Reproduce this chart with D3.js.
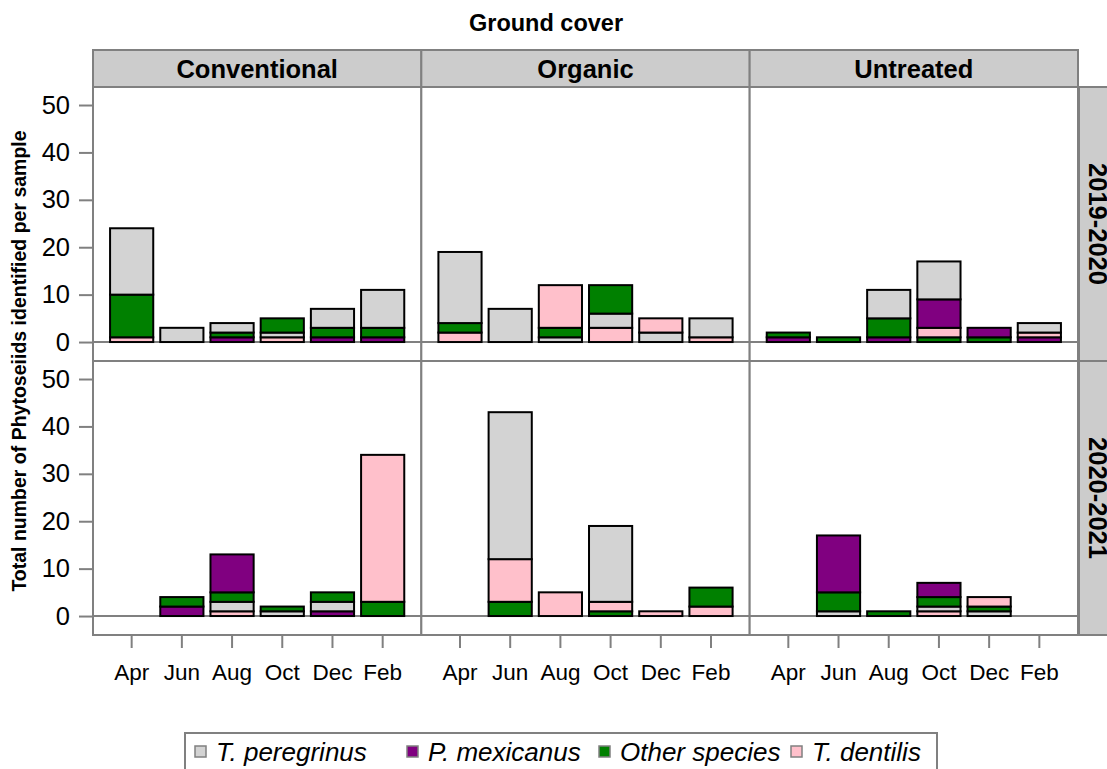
<!DOCTYPE html>
<html>
<head>
<meta charset="utf-8">
<script src="https://cdn.jsdelivr.net/npm/d3@7"></script>
<style>
  body { margin: 0; background: #fff; }
  svg { font-family: "Liberation Sans", Arial, sans-serif; }
</style>
</head>
<body>
<div id="chart"></div>
<script>
var months = ["Apr", "Jun", "Aug", "Oct", "Dec", "Feb"];
var treatments = ["Conventional", "Organic", "Untreated"];
var seasons = ["2019-2020", "2020-2021"];
var species = ["T. peregrinus", "P. mexicanus", "Other species", "T. dentilis"];
var speciesColors = ["#d3d3d3", "#800080", "#008000", "#ffc0cb"];
// order used when two segments of a bar have the same count
var tieRank = [2, 0, 3, 1];

// counts per season -> treatment -> month
var peregrinus = [
    [[14, 3, 2, 1, 4, 8], [15, 7, 1, 3, 2, 4], [0, 0, 6, 8, 0, 2]],
    [[0, 0, 2, 1, 2, 0], [0, 31, 0, 16, 0, 0], [0, 1, 0, 1, 1, 0]]
];
var mexicanus = [
    [[0, 0, 1, 0, 1, 1], [0, 0, 0, 0, 0, 0], [1, 0, 1, 6, 2, 1]],
    [[0, 2, 8, 0, 1, 0], [0, 0, 0, 0, 0, 0], [0, 12, 0, 3, 0, 0]]
];
var otherSpecies = [
    [[9, 0, 1, 3, 2, 2], [2, 0, 2, 6, 0, 0], [1, 1, 4, 1, 1, 0]],
    [[0, 2, 2, 1, 2, 3], [0, 3, 0, 1, 0, 4], [0, 4, 1, 2, 1, 0]]
];
var dentilis = [
    [[1, 0, 0, 1, 0, 0], [2, 0, 9, 3, 3, 1], [0, 0, 0, 2, 0, 1]],
    [[0, 0, 1, 0, 0, 31], [0, 9, 5, 2, 1, 2], [0, 0, 0, 1, 2, 0]]
];
var seriesData = [peregrinus, mexicanus, otherSpecies, dentilis];
var yTicks = [0, 10, 20, 30, 40, 50];

var width = 1107, height = 769;
var left = 93, right = 1078;
var stripTop = 50, stripH = 37;
var panelTop = 87, panelH = 274;
var panelW = (right - left) / treatments.length;
var grey = "#808080";

var svg = d3.select("#chart").append("svg")
    .attr("width", width)
    .attr("height", height);

var x = d3.scaleBand().domain(months)
    .range([0, panelW])
    .paddingInner(0.14)
    .paddingOuter(0.34);
var y = d3.scaleLinear().domain([-4, 53.8]).range([panelH, 0]);

svg.append("text")
    .attr("x", 546).attr("y", 31)
    .attr("text-anchor", "middle")
    .style("font-size", "23.5px").style("font-weight", "bold")
    .text("Ground cover");

svg.append("text")
    .attr("transform", "translate(26," + (panelTop + panelH) + ") rotate(-90)")
    .attr("text-anchor", "middle")
    .style("font-size", "19.5px").style("font-weight", "bold")
    .text("Total number of Phytoseiids identified per sample");

// column strips
treatments.forEach(function(t, c) {
    var g = svg.append("g").attr("transform", "translate(" + (left + c * panelW) + "," + stripTop + ")");
    g.append("rect").attr("width", panelW).attr("height", stripH)
        .attr("fill", "#cccccc").attr("stroke", grey).attr("stroke-width", 2);
    g.append("text").attr("x", panelW / 2).attr("y", stripH / 2 + 9)
        .attr("text-anchor", "middle")
        .style("font-size", "25.5px").style("font-weight", "bold")
        .text(t);
});

seasons.forEach(function(s, r) {
    var py = panelTop + r * panelH;

    // row strip
    var rs = svg.append("g").attr("transform", "translate(" + (right + 1) + "," + py + ")");
    rs.append("rect").attr("width", 37).attr("height", panelH)
        .attr("fill", "#cccccc").attr("stroke", grey).attr("stroke-width", 2);
    rs.append("text")
        .attr("transform", "translate(" + 10 + "," + (panelH / 2) + ") rotate(90)")
        .attr("text-anchor", "middle")
        .style("font-size", "25.5px").style("font-weight", "bold")
        .text(s);

    treatments.forEach(function(t, c) {
        var g = svg.append("g").attr("transform", "translate(" + (left + c * panelW) + "," + py + ")");
        g.append("rect").attr("width", panelW).attr("height", panelH)
            .attr("fill", "#fff").attr("stroke", grey).attr("stroke-width", 2);
        g.append("line").attr("x1", 0).attr("x2", panelW)
            .attr("y1", y(0)).attr("y2", y(0))
            .attr("stroke", grey).attr("stroke-width", 2);

        var bars = months.map(function(m, i) {
            var segs = species.map(function(sp, k) {
                return { k: k, v: seriesData[k][r][c][i] };
            }).filter(function(d) { return d.v > 0; });
            segs.sort(function(a, b) { return a.v - b.v || tieRank[a.k] - tieRank[b.k]; });
            var acc = 0;
            segs.forEach(function(d) { d.y0 = acc; acc += d.v; d.y1 = acc; d.month = m; });
            return segs;
        });

        g.selectAll("g.bar").data(bars).enter().append("g").attr("class", "bar")
            .selectAll("rect").data(function(d) { return d; }).enter().append("rect")
            .attr("x", function(d) { return x(d.month); })
            .attr("width", x.bandwidth())
            .attr("y", function(d) { return y(d.y1); })
            .attr("height", function(d) { return y(d.y0) - y(d.y1); })
            .attr("fill", function(d) { return speciesColors[d.k]; })
            .attr("stroke", "#000").attr("stroke-width", 2);

        if (c === 0) {
            var ya = g.append("g").attr("transform", "translate(-1,0)")
                .call(d3.axisLeft(y).tickValues(yTicks).tickSize(13).tickPadding(9));
            ya.select(".domain").remove();
            ya.selectAll("line").attr("stroke", grey).attr("stroke-width", 2);
            ya.selectAll("text").style("font-size", "25.5px").attr("fill", "#000")
                .style("font-family", "Liberation Sans, Arial, sans-serif");
        }
        if (r === seasons.length - 1) {
            var xa = g.append("g").attr("transform", "translate(0," + (panelH + 1) + ")")
                .call(d3.axisBottom(x).tickSize(12).tickPadding(16));
            xa.select(".domain").remove();
            xa.selectAll("line").attr("stroke", grey).attr("stroke-width", 2);
            xa.selectAll("text").style("font-size", "22.5px").attr("fill", "#000")
                .style("font-family", "Liberation Sans, Arial, sans-serif");
        }
    });
});

// legend
var legend = svg.append("g").attr("transform", "translate(185,733)");
legend.append("rect").attr("width", 752).attr("height", 45)
    .attr("fill", "#fff").attr("stroke", grey).attr("stroke-width", 2);
var legendX = [10, 222, 414, 606];
species.forEach(function(sp, k) {
    var li = legend.append("g").attr("transform", "translate(" + legendX[k] + ",0)");
    li.append("rect").attr("x", 0).attr("y", 13).attr("width", 11).attr("height", 11)
        .attr("fill", speciesColors[k]).attr("stroke", grey).attr("stroke-width", 1.5);
    li.append("text").attr("x", 21).attr("y", 28)
        .style("font-size", "26px").style("font-style", "italic")
        .text(sp);
});
</script>
</body>
</html>
